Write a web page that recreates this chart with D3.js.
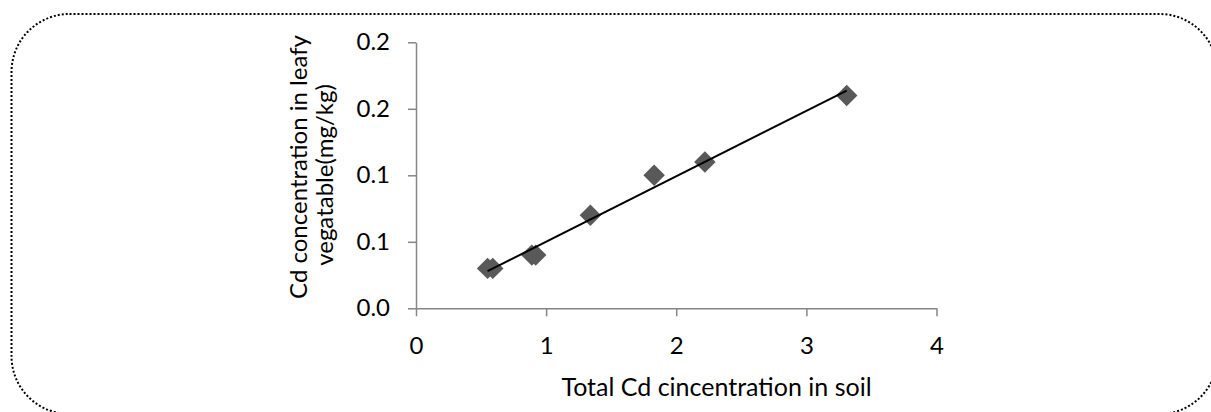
<!DOCTYPE html>
<html>
<head>
<meta charset="utf-8">
<script src="https://cdn.jsdelivr.net/npm/d3@7"></script>
<style>
  body { margin: 0; background: #fff; overflow: hidden; }
  svg { display: block; }
  .axis path, .axis line { stroke: #868686; stroke-width: 1.5; }
  .axis text { font-family: Lato, sans-serif; font-size: 24px; fill: #000; }
  .title { font-family: Lato, sans-serif; font-size: 25px; fill: #000; }
  .ytitle { font-size: 24px; }
</style>
</head>
<body>
<div id="chart"></div>
<script>
// values
const soilCd = [0.55, 0.59, 0.89, 0.92, 1.34, 1.83, 2.22, 3.31];
const leafCd = [0.030, 0.030, 0.040, 0.040, 0.070, 0.100, 0.110, 0.160];
const xTicks = [0, 1, 2, 3, 4];
const yTicks = [0, 0.05, 0.1, 0.15, 0.2];
const yTickLabels = ["0.0", "0.1", "0.1", "0.2", "0.2"];
const xTitle = "Total Cd cincentration in soil";
const yTitle = ["Cd concentration in leafy", "vegatable(mg/kg)"];

const width = 1211, height = 412;

const svg = d3.select("#chart").append("svg")
    .attr("width", width)
    .attr("height", height);

// dotted rounded frame (right and bottom edges fall just outside the view)
svg.append("rect")
    .attr("x", 11.5).attr("y", 14)
    .attr("width", 1206).attr("height", 400)
    .attr("rx", 58).attr("ry", 58)
    .attr("fill", "none")
    .attr("stroke", "#000")
    .attr("stroke-width", 2)
    .attr("stroke-dasharray", "2,2");

const xScale = d3.scaleLinear().domain([0, 4]).range([416, 936.5]);
const yScale = d3.scaleLinear().domain([0, 0.2]).range([308.3, 42.3]);

// axes
const xAxis = d3.axisBottom(xScale)
    .tickValues(xTicks)
    .tickFormat(d3.format("d"))
    .tickSize(8).tickSizeOuter(0).tickPadding(21);
svg.append("g")
    .attr("class", "axis")
    .attr("transform", "translate(0," + yScale(0) + ")")
    .call(xAxis);

const yAxis = d3.axisLeft(yScale)
    .tickValues(yTicks)
    .tickFormat((d, i) => yTickLabels[i])
    .tickSize(8).tickSizeOuter(0).tickPadding(18);
svg.append("g")
    .attr("class", "axis")
    .attr("transform", "translate(" + xScale(0) + ",0)")
    .call(yAxis);

// linear trend line (least squares)
const n = soilCd.length;
const mx = d3.mean(soilCd), my = d3.mean(leafCd);
let sxy = 0, sxx = 0;
for (let i = 0; i < n; i++) {
    sxy += (soilCd[i] - mx) * (leafCd[i] - my);
    sxx += (soilCd[i] - mx) * (soilCd[i] - mx);
}
const slope = sxy / sxx, intercept = my - slope * mx;
const xExt = d3.extent(soilCd);

// markers
const points = soilCd.map((x, i) => ({ x: x, y: leafCd[i] }));
const diamond = d3.symbol().type(d3.symbolSquare).size(230);
svg.append("g").selectAll("path")
    .data(points)
    .join("path")
    .attr("d", diamond)
    .attr("transform", d => "translate(" + xScale(d.x) + "," + yScale(d.y) + ") rotate(45)")
    .attr("fill", "#595959");

const trend = d3.line()
    .x(d => xScale(d))
    .y(d => yScale(intercept + slope * d));
svg.append("path")
    .datum(xExt)
    .attr("d", trend)
    .attr("stroke", "#000")
    .attr("stroke-width", 2)
    .attr("fill", "none");

// titles
svg.append("text")
    .attr("class", "title")
    .attr("x", 716.5).attr("y", 396)
    .attr("text-anchor", "middle")
    .text(xTitle);

svg.append("text")
    .attr("class", "title ytitle")
    .attr("transform", "translate(307,167) rotate(-90)")
    .attr("text-anchor", "middle")
    .text(yTitle[0]);
svg.append("text")
    .attr("class", "title ytitle")
    .attr("transform", "translate(333,175) rotate(-90)")
    .attr("text-anchor", "middle")
    .text(yTitle[1]);
</script>
</body>
</html>
